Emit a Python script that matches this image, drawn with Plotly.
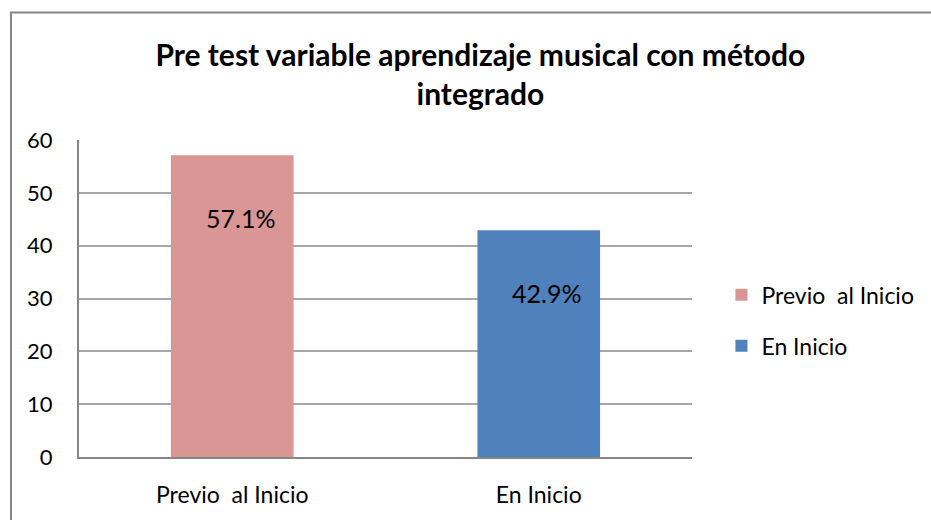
import plotly.graph_objects as go

categories = ["Previo  al Inicio", "En Inicio"]
values = [57.1, 42.9]
labels = ["57.1%", "42.9%"]
colors = ["#D99694", "#4F81BD"]
y_ticks = [0, 10, 20, 30, 40, 50, 60]

FONT = "Lato, Liberation Sans, sans-serif"

fig = go.Figure()
for i, (cat, val, col) in enumerate(zip(categories, values, colors)):
    fig.add_trace(go.Bar(x=[cat], y=[val], name=cat, marker=dict(color=col, line=dict(width=0)),
                         width=0.4, showlegend=True, legendgroup="g%d" % i))

for cat, val, lab in zip(categories, values, labels):
    fig.add_annotation(x=cat, y=val, text=lab, showarrow=False, yanchor="middle",
                       yshift=-63, xshift=8, font=dict(size=25, color="#000000", family=FONT))

fig.update_layout(
    width=931, height=520,
    margin=dict(l=79, r=239, t=140, b=59),
    paper_bgcolor="white", plot_bgcolor="white",
    barmode="overlay",
    title=dict(text="<b>Pre test variable aprendizaje musical con método<br>integrado</b>",
               x=0.516, xanchor="center", y=0.874, yanchor="middle",
               font=dict(size=30, color="#000000", family=FONT)),
    legend=dict(x=1.048, y=0.431, xanchor="left", yanchor="middle",
                font=dict(size=23, color="#000000", family=FONT),
                tracegroupgap=18, itemwidth=30),
    xaxis=dict(showgrid=False, showline=True, linecolor="#868686", linewidth=2,
               tickfont=dict(size=23, color="#000000", family=FONT), ticks="", ticklabelstandoff=16),
    yaxis=dict(range=[0, 60], tickvals=y_ticks, showgrid=True, gridcolor="#A6A6A6", gridwidth=2,
               showline=True, linecolor="#868686", linewidth=2, zeroline=False,
               tickfont=dict(size=22, color="#000000", family=FONT), ticks="", ticklabelstandoff=20),
    shapes=[dict(type="rect", xref="paper", yref="paper",
                 x0=(11 - 79) / 613, x1=(940 - 79) / 613,
                 y0=(461 - 530) / 321, y1=(461 - 11) / 321,
                 line=dict(color="#868686", width=2), layer="below")],
)

fig.write_html("out.html", config={"displayModeBar": False},
               post_script="document.body.style.margin='0';document.body.style.overflow='hidden';")
